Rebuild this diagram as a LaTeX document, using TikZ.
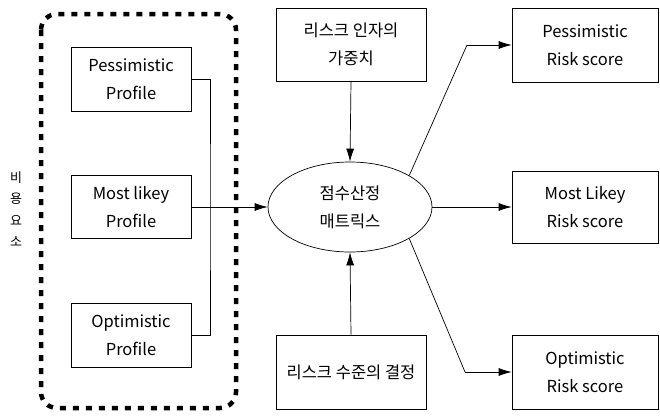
\documentclass[tikz,border=0pt]{standalone}
\usepackage{fontspec}
\setmainfont{Noto Sans CJK KR}
\usetikzlibrary{shapes.geometric,arrows.meta}
\tikzset{
  box/.style={draw,line width=0.7pt,rectangle,align=center,inner sep=0pt,
    font=\fontsize{16.5}{28}\selectfont},
  conn/.style={line width=0.7pt},
  arr/.style={line width=0.7pt,-{Latex[length=13pt,width=8pt]}},
  dashbox/.style={line width=4.5pt,dash pattern=on 6pt off 7pt,rounded corners=16pt},
}
\begin{document}
\begin{tikzpicture}[x=1pt,y=-1pt]
\useasboundingbox (0,0) rectangle (660,415);
% dashed group
\draw[dashbox] (41,14) rectangle (236,408);
% left boxes
\node[box,minimum width=120pt,minimum height=64pt] (pp) at (131,79) {Pessimistic\\Profile};
\node[box,minimum width=120pt,minimum height=63pt] (ml) at (131,207) {Most likey\\Profile};
\node[box,minimum width=120pt,minimum height=64pt] (op) at (131,335) {Optimistic\\Profile};
% center
\node[box,minimum width=150pt,minimum height=73pt] (w) at (351,44.5) {리스크 인자의\\가중치};
\node[box,ellipse,minimum width=164pt,minimum height=90pt] (ell) at (350,207) {점수산정\\매트릭스};
\node[box,minimum width=150pt,minimum height=74pt] (lv) at (351,372) {리스크 수준의 결정};
% right boxes
\node[box,minimum width=146pt,minimum height=74pt] (rp) at (585,45) {Pessimistic\\Risk score};
\node[box,minimum width=146pt,minimum height=72pt] (rm) at (585,207) {Most Likey\\Risk score};
\node[box,minimum width=146pt,minimum height=74pt] (ro) at (585,372) {Optimistic\\Risk score};
% side label
\node[align=center,inner sep=0pt,font=\fontsize{13}{21.5}\selectfont] (side) at (16,209) {비\\용\\요\\소};
% connectors
\coordinate (bus) at (210,207);
\coordinate (k1) at (467,45);
\coordinate (k2) at (465,372);
\draw[conn] (pp.east) -| (bus) |- (op.east);
\draw[arr] (ml.east) -- (ell.west);
\draw[arr] (w.south) -- (ell.north);
\draw[arr] (lv.north) -- (ell.south);
\draw[arr] (ell.east) -- (rm.west);
\draw[conn] (ell.28) -- (k1);
\draw[arr] (k1) -- (rp.west);
\draw[conn] (ell.-28) -- (k2);
\draw[arr] (k2) -- (ro.west);
\end{tikzpicture}
\end{document}
